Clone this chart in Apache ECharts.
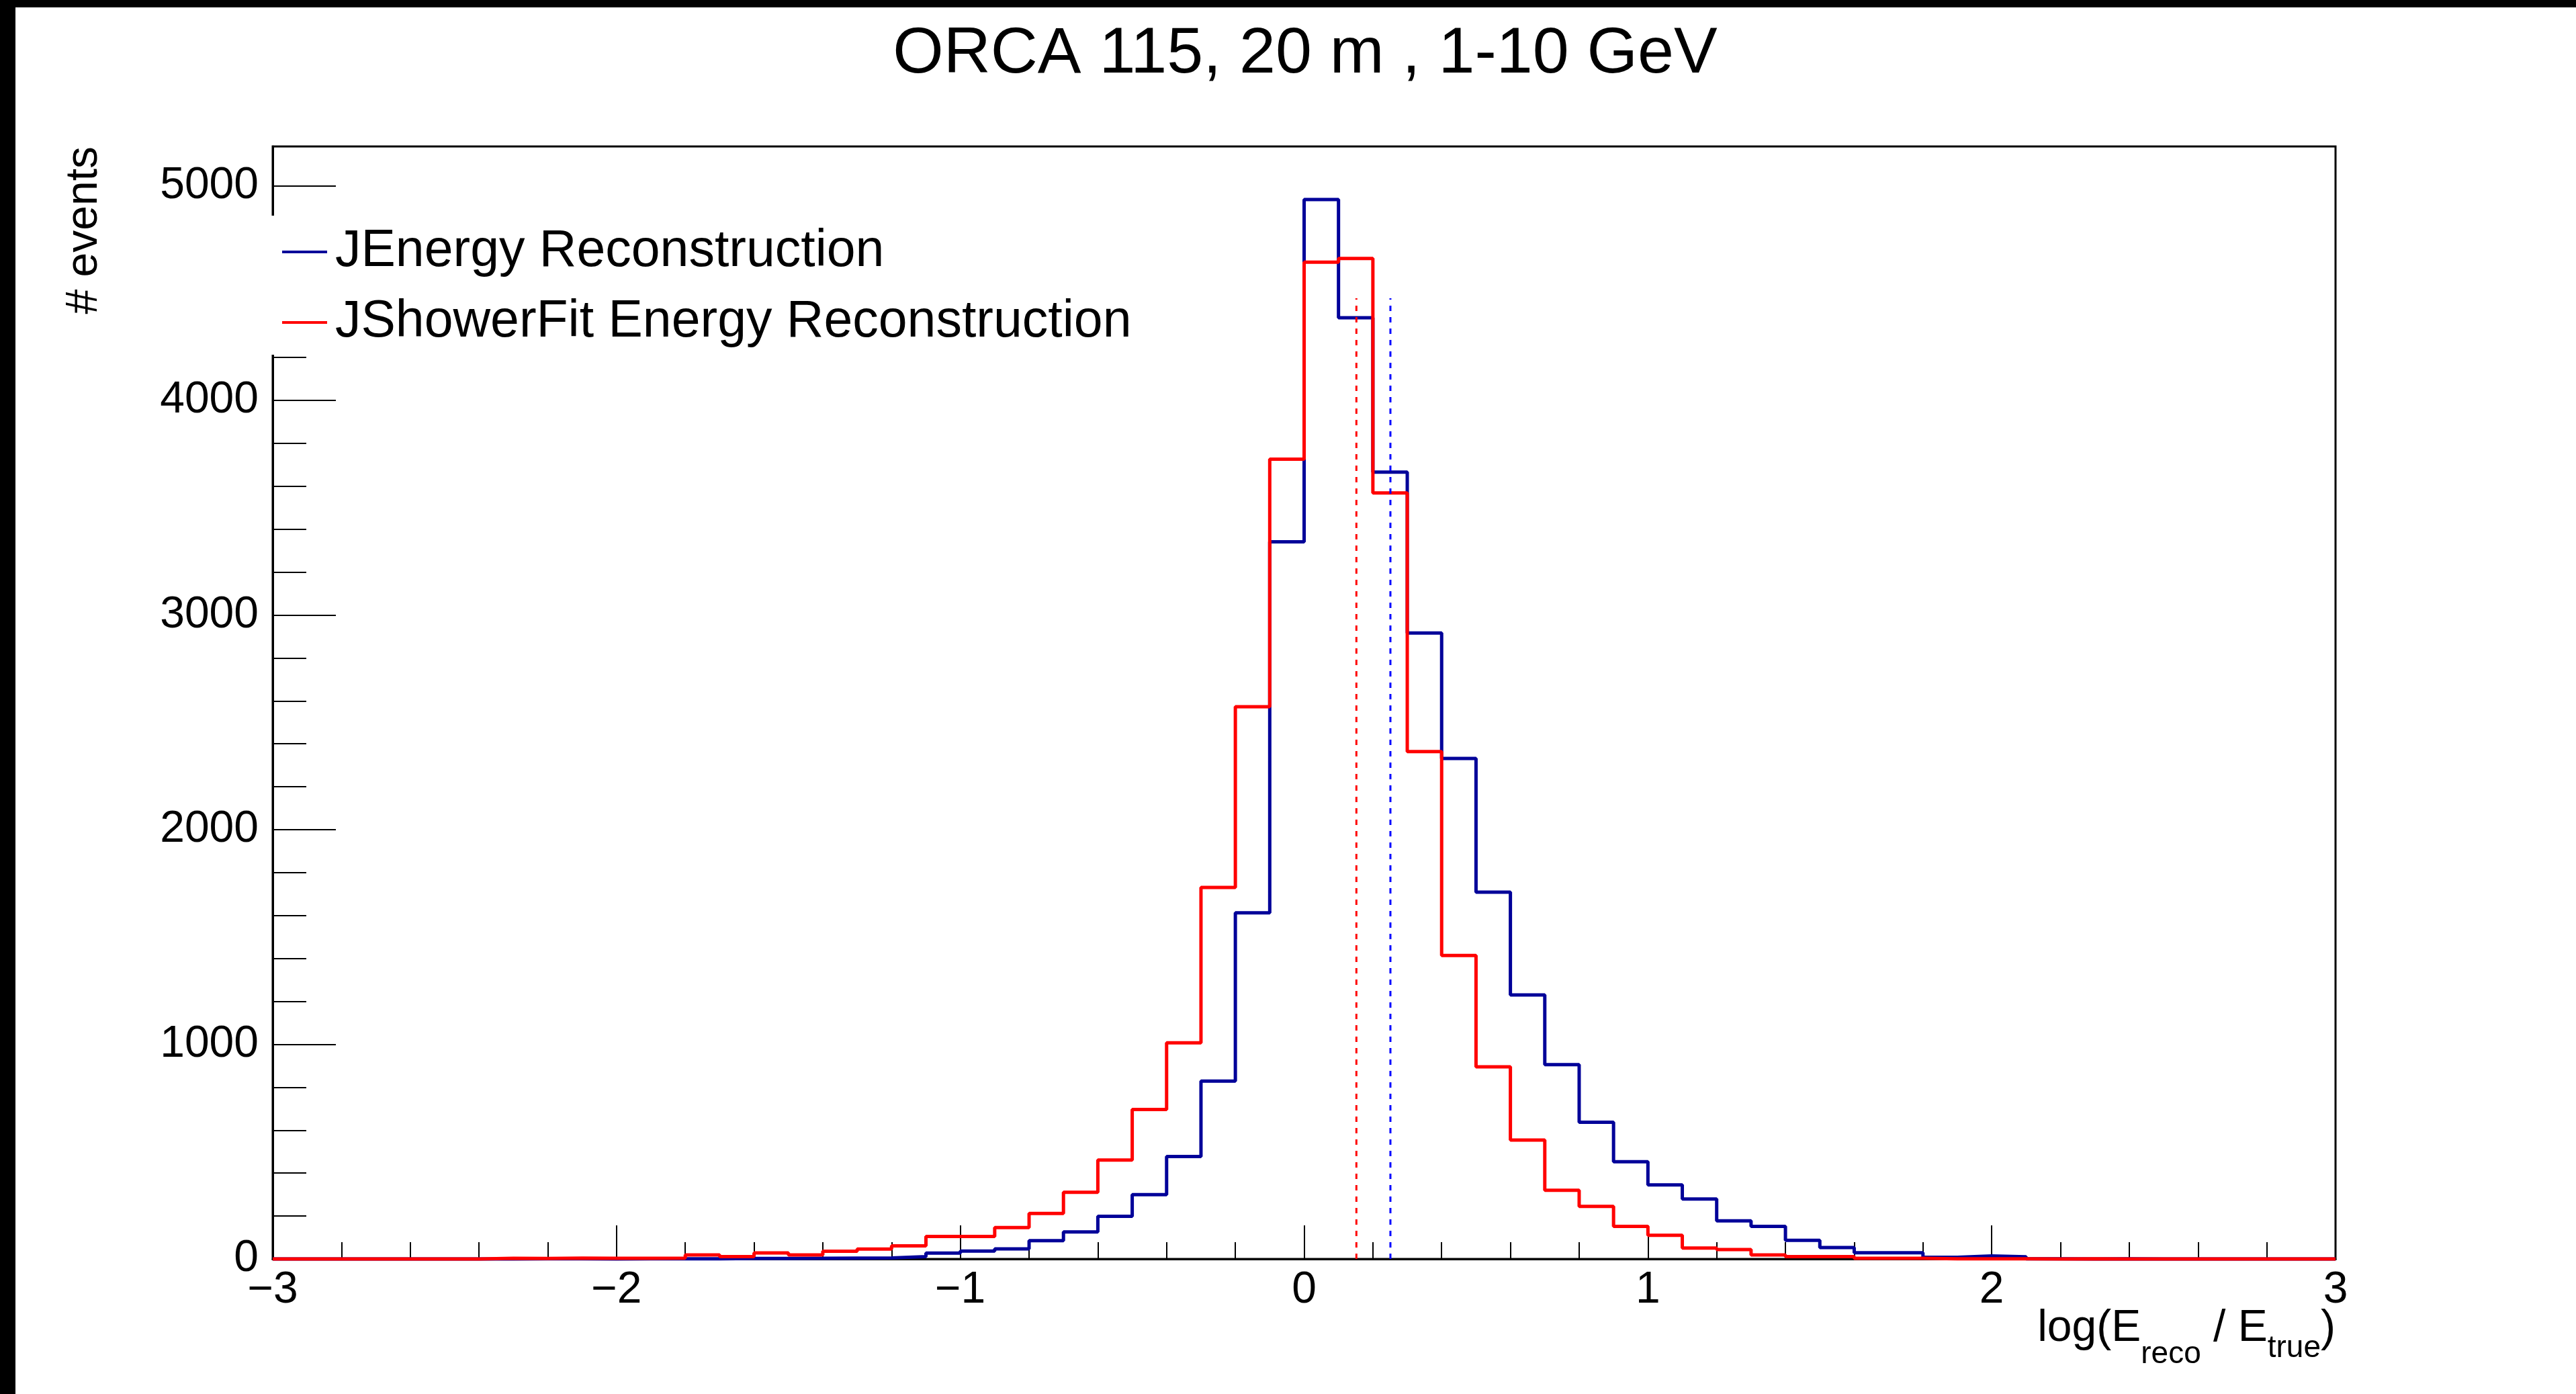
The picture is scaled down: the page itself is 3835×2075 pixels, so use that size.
<!DOCTYPE html>
<html>
<head>
<meta charset="utf-8">
<script src="https://cdn.jsdelivr.net/npm/echarts@6/dist/echarts.min.js"></script>
<style>
  html, body { margin: 0; padding: 0; background: #ffffff; }
  #chart { width: 3835px; height: 2075px; }
</style>
</head>
<body>
<div id="chart"></div>
<script>
// ---------------- data ----------------
const chartTitle = 'ORCA 115, 20 m , 1-10 GeV';
const seriesNames = ['JEnergy Reconstruction', 'JShowerFit Energy Reconstruction'];

// histogram binning: 60 bins of width 0.1 from -3 to 3
const binLow = -3;
const binWidth = 0.1;

// bin contents, bin k covers [-3 + 0.1k, -3 + 0.1(k+1)]
const jEnergyCounts = [
  0, 0, 0, 0, 0, 0,
  0, 1, 1, 0, 1, 1,
  1, 2, 2, 3, 4, 5,
  11, 27, 37, 47, 85, 126,
  199, 300, 477, 829, 1613, 3341,
  4936, 4385, 3666, 2916, 2332, 1709,
  1230, 905, 637, 453, 345, 279,
  178, 152, 87, 53, 29, 29,
  8, 14, 10, 1, 0, 1,
  0, 0, 0, 0, 0, 0
];
const jShowerCounts = [
  0, 0, 0, 0, 0, 0,
  3, 2, 4, 3, 3, 4,
  19, 11, 28, 19, 36, 46,
  61, 105, 105, 146, 212, 311,
  461, 696, 1007, 1731, 2573, 3726,
  4644, 4661, 3569, 2364, 1414, 895,
  554, 320, 245, 152, 110, 51,
  44, 19, 11, 11, 3, 3,
  1, 1, 1, 0, 1, 0,
  0, 0, 0, 0, 0, 0
];

// mean markers (dashed vertical lines)
const meanJEnergy = 0.251;
const meanJShower = 0.152;
const meanLineTop = 4476;

// axes
const xMin = -3, xMax = 3, xInterval = 1;
const yMax = 5183;
const yTicks = [0, 1000, 2000, 3000, 4000, 5000];
const yMinorTicks = [200, 400, 600, 800, 1200, 1400, 1600, 1800, 2200, 2400, 2600, 2800,
                     3200, 3400, 3600, 3800, 4200, 4400, 4600, 4800];

// ---------------- build ----------------
function histPoints(counts) {
  const pts = [];
  for (let i = 0; i <= counts.length; i++) {
    const x = +(binLow + i * binWidth).toFixed(4);
    pts.push([x, counts[Math.min(i, counts.length - 1)]]);
  }
  return pts;
}

const FONT = "'Liberation Sans', Arial, Helvetica, sans-serif";
const chart = echarts.init(document.getElementById('chart'), null, { renderer: 'canvas' });

const option = {
  backgroundColor: '#ffffff',
  animation: false,
  textStyle: { fontFamily: FONT, color: '#000' },
  title: {
    text: chartTitle,
    left: 1938,
    top: 26,
    textAlign: 'center',
    textStyle: { fontFamily: FONT, fontSize: 97, fontWeight: 'normal', color: '#000', lineHeight: 100 }
  },
  legend: {
    orient: 'vertical',
    left: 400,
    top: 321,
    padding: [14, 20, 8, 20],
    backgroundColor: '#ffffff',
    itemWidth: 67,
    itemHeight: 4,
    itemGap: 25,
    selectedMode: false,
    textStyle: { fontFamily: FONT, fontSize: 77, color: '#000', lineHeight: 80, padding: [0, 0, 0, 7] },
    data: [
      { name: seriesNames[0], icon: 'rect' },
      { name: seriesNames[1], icon: 'rect' }
    ]
  },
  grid: {
    left: 406, right: 358, top: 218, bottom: 201,
    containLabel: false,
    outerBoundsMode: 'none',
    show: true,
    borderColor: '#000',
    borderWidth: 3,
    backgroundColor: 'transparent'
  },
  xAxis: {
    type: 'value',
    min: xMin, max: xMax, interval: xInterval,
    position: 'bottom',
    axisLine: { show: true, onZero: false, lineStyle: { color: '#000', width: 3 } },
    axisTick: { show: true, inside: true, length: 50, lineStyle: { color: '#000', width: 2 } },
    minorTick: { show: true, splitNumber: 5, length: 25, lineStyle: { color: '#000', width: 2 } },
    splitLine: { show: false },
    axisLabel: {
      margin: 14, fontFamily: FONT, fontSize: 66, color: '#000', lineHeight: 66,
      formatter: v => (v < 0 ? '\u2212' + Math.abs(v) : String(v))
    },
    name: '{m|log(E}{r|reco}{m| / E}{t|true}{m|)}',
    nameLocation: 'end',
    nameGap: 0,
    nameMoveOverlap: false,
    nameTextStyle: {
      align: 'right', verticalAlign: 'top', padding: [69, 0, 0, 0],
      fontFamily: FONT, color: '#000',
      rich: {
        m: { fontFamily: FONT, fontSize: 66, height: 70, verticalAlign: 'top', color: '#000' },
        r: { fontFamily: FONT, fontSize: 46, height: 146, verticalAlign: 'top', color: '#000' },
        t: { fontFamily: FONT, fontSize: 46, height: 128, verticalAlign: 'top', color: '#000' }
      }
    }
  },
  yAxis: [
    {
      type: 'value',
      min: 0, max: yMax,
      position: 'left',
      axisLine: { show: true, onZero: false, lineStyle: { color: '#000', width: 3 } },
      axisTick: { show: true, inside: true, length: 94, customValues: yTicks, lineStyle: { color: '#000', width: 2 } },
      minorTick: { show: false },
      splitLine: { show: false },
      axisLabel: {
        margin: 21, fontFamily: FONT, fontSize: 66, color: '#000', customValues: yTicks,
        formatter: v => String(v)
      },
      name: '# events',
      nameLocation: 'end',
      nameGap: 0,
      nameRotate: 90,
      nameMoveOverlap: false,
      nameTextStyle: {
        align: 'right', verticalAlign: 'bottom', padding: [0, 0, 247, 0],
        fontFamily: FONT, fontSize: 66, color: '#000', lineHeight: 66
      }
    },
    {
      type: 'value',
      min: 0, max: yMax,
      position: 'left',
      offset: 0,
      axisLine: { show: false, onZero: false },
      axisTick: { show: true, inside: true, length: 50, customValues: yMinorTicks, lineStyle: { color: '#000', width: 2 } },
      axisLabel: { show: false },
      splitLine: { show: false }
    }
  ],
  graphic: [
    { type: 'rect', left: 0, top: 0, z: 100, shape: { width: 3835, height: 11 }, style: { fill: '#000' } },
    { type: 'rect', left: 0, top: 0, z: 100, shape: { width: 23, height: 2075 }, style: { fill: '#000' } }
  ],
  series: [
    {
      name: seriesNames[0], type: 'line', step: 'end', clip: false,
      data: histPoints(jEnergyCounts), symbol: 'none', color: '#000099',
      lineStyle: { color: '#000099', width: 5 }, emphasis: { disabled: true }, z: 2
    },
    {
      name: seriesNames[1], type: 'line', step: 'end', clip: false,
      data: histPoints(jShowerCounts), symbol: 'none', color: '#ff0000',
      lineStyle: { color: '#ff0000', width: 5 }, emphasis: { disabled: true }, z: 3
    },
    {
      name: 'meanShower', type: 'line', clip: false,
      data: [[meanJShower, 0], [meanJShower, meanLineTop]], symbol: 'none',
      lineStyle: { color: '#ff0000', width: 3, type: [8, 9] }, emphasis: { disabled: true }, z: 4
    },
    {
      name: 'meanEnergy', type: 'line', clip: false,
      data: [[meanJEnergy, 0], [meanJEnergy, meanLineTop]], symbol: 'none',
      lineStyle: { color: '#0000ff', width: 3, type: [8, 9] }, emphasis: { disabled: true }, z: 4
    }
  ]
};
chart.setOption(option);
</script>
</body>
</html>
